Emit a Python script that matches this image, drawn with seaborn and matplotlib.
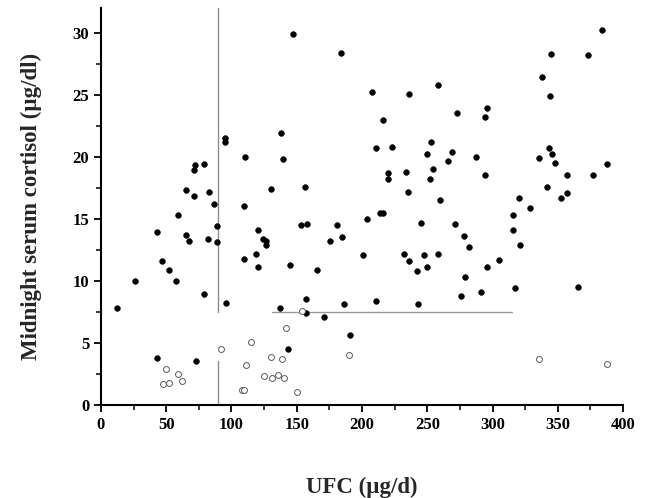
import matplotlib
matplotlib.use("Agg")
import matplotlib.pyplot as plt
import seaborn as sns
from matplotlib.ticker import MultipleLocator

# UFC (ug/d) and midnight serum cortisol (ug/dl)
filled_ufc = [95.0, 95.0, 110.3, 72.0, 71.3, 78.9, 64.9, 71.3, 83.0, 86.8,
              109.3, 58.8, 42.7, 89.1, 64.9, 67.7, 82.0, 89.1, 120.6, 123.9,
              126.4, 126.4, 47.0, 52.1, 57.7, 26.1, 109.3, 119.0, 120.6, 79.2,
              96.0, 12.0, 43.1, 72.8, 153.0, 158.1, 145.1, 165.7, 180.8, 175.2,
              184.9, 204.1, 214.0, 216.3, 201.0, 245.0, 232.4, 235.8, 241.9, 247.7,
              250.1, 156.9, 136.9, 156.9, 170.9, 186.0, 211.0, 242.9, 190.8, 143.0,
              147.4, 184.1, 207.9, 235.8, 215.9, 138.2, 139.2, 211.0, 222.7, 252.9,
              250.1, 254.7, 234.0, 219.9, 219.9, 251.9, 235.0, 130.0, 156.1, 383.9,
              344.8, 372.9, 337.9, 343.8, 258.0, 273.0, 295.8, 294.0, 269.0, 265.9,
              287.1, 294.0, 260.0, 343.1, 335.9, 345.9, 347.9, 356.8, 376.8, 341.8,
              356.8, 352.7, 320.1, 328.7, 388.0, 271.3, 277.9, 281.8, 258.0, 295.8,
              305.0, 316.0, 316.0, 321.1, 278.9, 275.9, 291.0, 317.0, 365.8]
filled_cortisol = [21.5, 21.2, 20.0, 19.3, 18.9, 19.4, 17.3, 16.8, 17.2, 16.2,
                   16.0, 15.3, 13.9, 14.4, 13.7, 13.2, 13.4, 13.1, 14.1, 13.4,
                   13.2, 12.9, 11.6, 10.9, 10.0, 10.0, 11.8, 12.2, 11.1, 8.9,
                   8.2, 7.8, 3.8, 3.5, 14.5, 14.6, 11.3, 10.9, 14.5, 13.2,
                   13.5, 15.0, 15.5, 15.5, 12.1, 14.7, 12.2, 11.6, 10.8, 12.1,
                   11.1, 8.5, 7.8, 7.4, 7.1, 8.1, 8.4, 8.1, 5.6, 4.5,
                   29.9, 28.4, 25.2, 25.1, 23.0, 21.9, 19.8, 20.7, 20.8, 21.2,
                   20.2, 19.0, 18.8, 18.7, 18.2, 18.2, 17.2, 17.4, 17.6, 30.2,
                   28.3, 28.2, 26.4, 24.9, 25.8, 23.5, 23.9, 23.2, 20.4, 19.7,
                   20.0, 18.5, 16.5, 20.7, 19.9, 20.2, 19.5, 18.5, 18.5, 17.6,
                   17.1, 16.7, 16.7, 15.9, 19.4, 14.6, 13.6, 12.7, 12.2, 11.1,
                   11.7, 15.3, 14.1, 12.9, 10.3, 8.8, 9.1, 9.4, 9.5]

open_ufc = [92.0, 114.7, 110.9, 49.8, 59.3, 62.1, 47.3, 52.3, 107.8, 109.8,
            124.9, 130.8, 135.9, 140.2, 154.3, 142.0, 130.0, 138.9, 190.0, 150.2,
            335.6, 388.0]
open_cortisol = [4.5, 5.1, 3.2, 2.9, 2.5, 1.9, 1.7, 1.8, 1.2, 1.2,
                 2.3, 2.2, 2.4, 2.2, 7.6, 6.2, 3.9, 3.7, 4.0, 1.0,
                 3.7, 3.3]

ufc_cut = 90
cortisol_cut = 7.5

sns.set_style("ticks")
plt.rcParams['font.family'] = ['Liberation Serif', 'DejaVu Serif']
plt.rcParams['font.weight'] = 'bold'

fig = plt.figure(figsize=(6.47, 4.98), dpi=100)
ax = fig.add_axes([0.156, 0.187, 0.807, 0.797])

# cut-off lines
ax.plot([ufc_cut, ufc_cut], [cortisol_cut, 32], color='0.55', lw=1, zorder=1)
ax.plot([ufc_cut, ufc_cut], [0, 3.5], color='0.55', lw=1, zorder=1)
ax.plot([131, 315], [cortisol_cut, cortisol_cut], color='0.6', lw=1, zorder=1)

sns.scatterplot(x=filled_ufc, y=filled_cortisol, color='black',
                edgecolor='black', linewidth=0.4, s=17, ax=ax, zorder=3)
sns.scatterplot(x=open_ufc, y=open_cortisol, color='white',
                edgecolor='0.35', linewidth=0.7, s=18, ax=ax, zorder=3)

ax.set_xlim(0, 400)
ax.set_ylim(0, 32)
ax.xaxis.set_major_locator(MultipleLocator(50))
ax.xaxis.set_minor_locator(MultipleLocator(25))
ax.yaxis.set_major_locator(MultipleLocator(5))
ax.yaxis.set_minor_locator(MultipleLocator(2.5))
ax.set_yticks(range(0, 31, 5))
ax.tick_params(which='major', direction='out', length=5, width=1.3,
               labelsize=12, colors='black')
ax.tick_params(which='minor', direction='out', length=3.5, width=1.3)

for s in ['left', 'bottom']:
    ax.spines[s].set_linewidth(1.5)
    ax.spines[s].set_color('black')
sns.despine(ax=ax)

ax.set_xlabel('UFC (µg/d)', fontsize=16.5, fontweight='bold', labelpad=32)
ax.set_ylabel('Midnight serum cortisol (µg/dl)', fontsize=16.5,
              fontweight='bold', labelpad=22)

fig.savefig('out.png', dpi=100)
